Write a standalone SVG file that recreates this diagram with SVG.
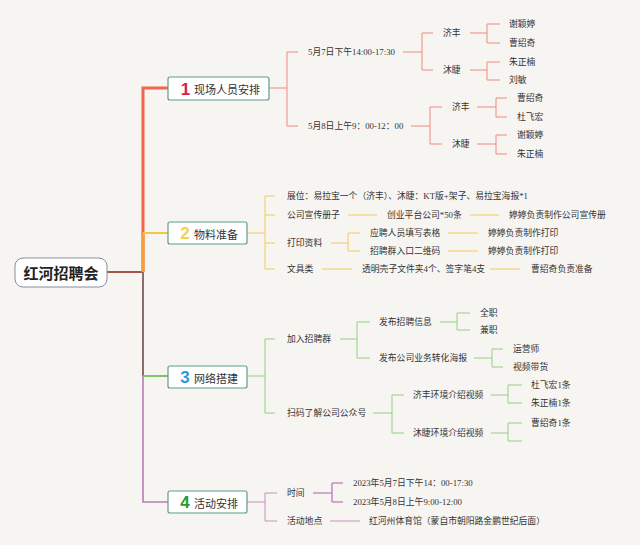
<svg xmlns="http://www.w3.org/2000/svg" width="640" height="545" viewBox="0 0 640 545">
<style>
.t{font-family:"Liberation Serif","Noto Sans CJK SC",serif;font-size:8.8px;fill:#333;dominant-baseline:central}
.bt{font-family:"Noto Sans CJK SC",sans-serif;font-size:11px;fill:#333;dominant-baseline:central}
.num{font-family:"Liberation Sans","Noto Sans",sans-serif;font-size:17px;font-weight:bold;dominant-baseline:central;text-anchor:middle}
.box{fill:#fff;stroke:#5e9c8c;stroke-width:1.2}
.c1{fill:none;stroke:#f1897a;stroke-width:1}
.c2{fill:none;stroke:#f6c85e;stroke-width:1}
.c3{fill:none;stroke:#93cf82;stroke-width:1}
.c4{fill:none;stroke:#c98ec0;stroke-width:1}
</style>
<rect width="640" height="545" fill="#f7f5f2"/>
<g id="connectors">
<path d="M107 272 H143" fill="none" stroke="#a5544c" stroke-width="2"/>
<path d="M143 272 V88 H168" fill="none" stroke="#f2654f" stroke-width="3"/>
<path d="M143 272 V233" fill="none" stroke="#f5a030" stroke-width="3"/>
<path d="M143 233 H168" fill="none" stroke="#f6c642" stroke-width="2"/>
<path d="M143 272 V376" fill="none" stroke="#8a6d6d" stroke-width="2"/>
<path d="M143 376 H168" fill="none" stroke="#7dc46c" stroke-width="2"/>
<path d="M143 376 V502 H168" fill="none" stroke="#b77db0" stroke-width="1.6"/>
<path class="c1" d="M269 88 H287 M287 52 V126 M287 52 H298 M287 126 H298 M403 52 H422 M422 33 V70 M422 33 H433 M422 70 H433 M470 33 H487 M487 24 V43 M487 24 H500 M487 43 H500 M470 70 H487 M487 62 V80 M487 62 H500 M487 80 H500 M411 126 H430 M430 107 V144 M430 107 H442 M430 144 H442 M477 107 H496 M496 98 V117 M496 98 H507 M496 117 H507 M477 144 H496 M496 135 V154 M496 135 H507 M496 154 H507"/>
<path class="c2" d="M247 233 H265 M265 196 V269 M265 196 H275 M265 215 H275 M265 243 H275 M265 269 H275 M348 215 H377 M470 215 H499 M331 243 H348 M348 233 V251 M348 233 H360 M348 251 H360 M448 233 H478 M448 251 H478 M322 269 H352 M490 269 H520"/>
<path class="c3" d="M247 376 H265 M265 339 V413 M265 339 H275 M265 413 H275 M340 339 H357 M357 322 V358 M357 322 H370 M357 358 H370 M440 322 H457 M457 313 V330 M457 313 H470 M457 330 H470 M474 358 H492 M492 349 V367 M492 349 H503 M492 367 H503 M373 413 H392 M392 395 V433 M392 395 H404 M392 433 H404 M491 395 H508 M508 385 V403 M508 385 H522 M508 403 H522 M491 433 H508 M508 423 V441 M508 423 H522 M508 441 H522"/>
<path class="c4" d="M247 502 H265 M265 493 V521 M265 493 H277 M265 521 H277 M330 521 H360"/>
<path d="M313 493 H332 M332 483 V502 M332 483 H343 M332 502 H343" fill="none" stroke="#c98ec0" stroke-width="1.6"/>
</g>
<g id="root">
<rect x="15" y="258" width="92" height="29" rx="8" fill="#fff" stroke="#8a8c9c" stroke-width="1"/>
<text x="61" y="272.5" text-anchor="middle" style="font-family:'Noto Sans CJK SC',sans-serif;font-size:15px;font-weight:bold;fill:#222;dominant-baseline:central">红河招聘会</text>
</g>
<g id="b1">
<rect class="box" x="168" y="77" width="101" height="23" rx="2"/>
<text class="num" x="185.5" y="89" fill="#d8223f">1</text>
<text class="bt" x="194" y="89">现场人员安排</text>
</g>
<g id="b1-children">
<text class="t" x="308" y="52">5月7日下午14:00-17:30</text>
<text class="t" x="308" y="126">5月8日上午9：00-12：00</text>
<text class="t" x="443" y="33">济丰</text>
<text class="t" x="443" y="70">沐睫</text>
<text class="t" x="509" y="24">谢颖婷</text>
<text class="t" x="509" y="43">曹绍奇</text>
<text class="t" x="509" y="62">朱正楠</text>
<text class="t" x="509" y="80">刘敏</text>
<text class="t" x="452" y="107">济丰</text>
<text class="t" x="452" y="144">沐睫</text>
<text class="t" x="517" y="98">曹绍奇</text>
<text class="t" x="517" y="117">杜飞宏</text>
<text class="t" x="517" y="135">谢颖婷</text>
<text class="t" x="517" y="154">朱正楠</text>
</g>
<g id="b2">
<rect class="box" x="168" y="222" width="79" height="22" rx="2"/>
<text class="num" x="185" y="233.5" fill="#f2d24a">2</text>
<text class="bt" x="194" y="233.5">物料准备</text>
</g>
<g id="b2-children">
<text class="t" x="287" y="196">展位：易拉宝一个（济丰）、沐睫：KT版+架子、易拉宝海报*1</text>
<text class="t" x="287" y="215">公司宣传册子</text>
<text class="t" x="387" y="215">创业平台公司*50条</text>
<text class="t" x="509" y="215">婷婷负责制作公司宣传册</text>
<text class="t" x="287" y="243">打印资料</text>
<text class="t" x="370" y="233">应聘人员填写表格</text>
<text class="t" x="370" y="251">招聘群入口二维码</text>
<text class="t" x="488" y="233">婷婷负责制作打印</text>
<text class="t" x="488" y="251">婷婷负责制作打印</text>
<text class="t" x="287" y="269">文具类</text>
<text class="t" x="362" y="269">透明壳子文件夹4个、签字笔4支</text>
<text class="t" x="531" y="269">曹绍奇负责准备</text>
</g>
<g id="b3">
<rect class="box" x="168" y="366" width="79" height="22" rx="2"/>
<text class="num" x="185" y="377.5" fill="#2b9ad6">3</text>
<text class="bt" x="194" y="377.5">网络搭建</text>
</g>
<g id="b3-children">
<text class="t" x="287" y="339">加入招聘群</text>
<text class="t" x="379" y="322">发布招聘信息</text>
<text class="t" x="480" y="313">全职</text>
<text class="t" x="480" y="330">兼职</text>
<text class="t" x="379" y="358">发布公司业务转化海报</text>
<text class="t" x="513" y="349">运营师</text>
<text class="t" x="513" y="367">视频带货</text>
<text class="t" x="287" y="413">扫码了解公司公众号</text>
<text class="t" x="413" y="395">济丰环境介绍视频</text>
<text class="t" x="413" y="433">沐睫环境介绍视频</text>
<text class="t" x="531" y="385">杜飞宏1条</text>
<text class="t" x="531" y="403">朱正楠1条</text>
<text class="t" x="531" y="423">曹绍奇1条</text>
</g>
<g id="b4">
<rect class="box" x="168" y="491" width="79" height="22" rx="2"/>
<text class="num" x="185" y="502.5" fill="#2a9a2e">4</text>
<text class="bt" x="194" y="502.5">活动安排</text>
</g>
<g id="b4-children">
<text class="t" x="287" y="493">时间</text>
<text class="t" x="353" y="483">2023年5月7日下午14：00-17:30</text>
<text class="t" x="353" y="502">2023年5月8日上午9:00-12:00</text>
<text class="t" x="287" y="521">活动地点</text>
<text class="t" x="369" y="521">红河州体育馆（蒙自市朝阳路金鹏世纪后面）</text>
</g>
</svg>
